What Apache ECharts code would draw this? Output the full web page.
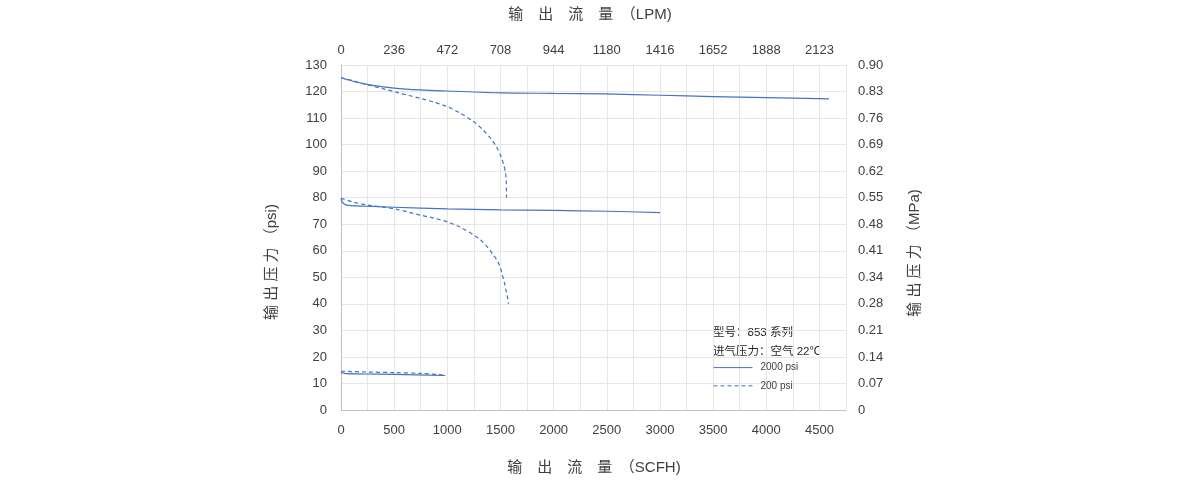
<!DOCTYPE html>
<html>
<head>
<meta charset="utf-8">
<script src="https://cdn.jsdelivr.net/npm/echarts@6/dist/echarts.min.js"></script>
<style>
html,body{margin:0;padding:0;background:#fff;}
#chart{width:1191px;height:482px;}
</style>
</head>
<body>
<div id="chart"></div>
<script>
// ---- data (flow in SCFH, outlet pressure in psi) ----
var bottomTickLabels = ['0','500','1000','1500','2000','2500','3000','3500','4000','4500'];
var topTickLabels = ['0','236','472','708','944','1180','1416','1652','1888','2123'];
var leftTickLabels = ['0','10','20','30','40','50','60','70','80','90','100','110','120','130'];
var rightTickLabels = ['0','0.07','0.14','0.21','0.28','0.34','0.41','0.48','0.55','0.62','0.69','0.76','0.83','0.90'];

// 2000 psi inlet (solid)
var flowHighSet2000 = [0, 50, 150, 300, 500, 750, 1000, 1500, 2000, 2500, 3000, 3500, 4000, 4590];
var psiHighSet2000  = [125.2, 124.6, 123.5, 122.3, 121.3, 120.6, 120.2, 119.5, 119.3, 119.1, 118.6, 118.1, 117.7, 117.2];
var flowMidSet2000  = [0, 15, 40, 100, 300, 500, 1000, 1500, 2000, 2500, 3000];
var psiMidSet2000   = [79.6, 78.2, 77.4, 77.0, 76.7, 76.4, 75.8, 75.4, 75.2, 74.9, 74.4];
var flowLowSet2000  = [0, 30, 200, 500, 980];
var psiLowSet2000   = [14.2, 13.8, 13.6, 13.4, 13.0];

// 200 psi inlet (dashed)
var flowHighSet200 = [0, 120, 250, 400, 525, 650, 750, 875, 1000, 1125, 1250, 1330, 1406, 1460, 1500, 1530, 1547, 1555, 1557];
var psiHighSet200  = [125.2, 124.0, 122.5, 121.0, 119.7, 118.4, 117.4, 116.0, 114.3, 111.8, 108.6, 105.8, 102.4, 99.3, 96.1, 92.5, 89.5, 85.5, 80.0];
var flowMidSet200  = [0, 120, 250, 400, 525, 650, 750, 875, 1000, 1125, 1250, 1320, 1375, 1430, 1470, 1500, 1520, 1540, 1555, 1568, 1575];
var psiMidSet200   = [79.8, 78.3, 77.2, 76.4, 75.6, 74.4, 73.4, 72.3, 70.9, 68.8, 65.9, 63.8, 61.5, 58.6, 56.3, 53.5, 50.5, 47.5, 44.5, 42.0, 40.0];
var flowLowSet200  = [0, 250, 500, 750, 980];
var psiLowSet200   = [14.6, 14.3, 14.1, 13.8, 13.1];

var legendNames = ['2000 psi', '200 psi'];
var legendHeader = ['型号：853 系列', '进气压力：空气 22℃'];

function zip(xs, ys){ return xs.map(function(x,i){ return [x, ys[i]]; }); }

var BLUE = '#4472C4';
var FONT = '"Liberation Sans", Arial, "Noto Sans CJK SC", sans-serif';
var TXT = '#404040';
var GRID = '#e6e6e6';

function mkSeries(name, xs, ys, dashed){
  return {
    name: name, type: 'line', xAxisIndex: 0, yAxisIndex: 0,
    data: zip(xs, ys), symbol: 'none', showSymbol: false, smooth: 0.3,
    lineStyle: {color: BLUE, width: 1.2, type: dashed ? [4,3] : 'solid'},
    itemStyle: {color: BLUE},
    animation: false
  };
}

var chart = echarts.init(document.getElementById('chart'), null, {renderer:'canvas'});
chart.setOption({
  backgroundColor: '#fff',
  animation: false,
  textStyle: {fontFamily: FONT},
  grid: {left: 341, right: 345, top: 65, bottom: 72, containLabel: false},
  xAxis: [{
    type: 'value', position: 'bottom', min: 0, max: 4750, interval: 250,
    axisLine: {show: true, lineStyle: {color: '#bfbfbf', width: 1}},
    axisTick: {show: false},
    splitLine: {show: true, lineStyle: {color: GRID, width: 1}},
    axisLabel: {color: TXT, fontSize: 13, fontFamily: FONT, margin: 14,
      formatter: function(v){ return (v % 500 === 0 && v/500 < bottomTickLabels.length) ? bottomTickLabels[v/500] : ''; }}
  },{
    type: 'value', position: 'top', min: 0, max: 4750, interval: 250,
    axisLine: {show: false}, axisTick: {show: false}, splitLine: {show: false},
    axisLabel: {color: TXT, fontSize: 13, fontFamily: FONT, margin: 8,
      formatter: function(v){ return (v % 500 === 0 && v/500 < topTickLabels.length) ? topTickLabels[v/500] : ''; }}
  }],
  yAxis: [{
    type: 'value', position: 'left', min: 0, max: 130, interval: 10,
    axisLine: {show: true, lineStyle: {color: '#bfbfbf', width: 1}},
    axisTick: {show: false},
    splitLine: {show: true, lineStyle: {color: GRID, width: 1}},
    axisLabel: {color: TXT, fontSize: 13, fontFamily: FONT, margin: 14,
      formatter: function(v){ return leftTickLabels[Math.round(v/10)]; }}
  },{
    type: 'value', position: 'right', min: 0, max: 130, interval: 10,
    axisLine: {show: false}, axisTick: {show: false}, splitLine: {show: false},
    axisLabel: {color: TXT, fontSize: 13, fontFamily: FONT, margin: 12,
      formatter: function(v){ return rightTickLabels[Math.round(v/10)]; }}
  }],
  legend: {
    data: legendNames, orient: 'vertical', left: 708, top: 357,
    itemWidth: 39, itemHeight: 14, itemGap: 7,
    itemStyle: {opacity: 0},
    lineStyle: {width: 1},
    textStyle: {color: TXT, fontSize: 10, fontFamily: FONT, padding: [0,0,0,3]}
  },
  graphic: [
    {type:'text', x: 590, y: 15, style:{text:'输　出　流　量　（LPM)', fill: TXT, font: '15px ' + FONT, textAlign:'center', textVerticalAlign:'middle'}},
    {type:'text', x: 594, y: 468, style:{text:'输　出　流　量　（SCFH)', fill: TXT, font: '15px ' + FONT, textAlign:'center', textVerticalAlign:'middle'}},
    {type:'text', x: 272, y: 262, rotation: Math.PI/2, style:{text:'输 出 压 力 （psi)', fill: TXT, font: '15px ' + FONT, textAlign:'center', textVerticalAlign:'middle'}},
    {type:'text', x: 915, y: 253, rotation: Math.PI/2, style:{text:'输 出 压 力 （MPa)', fill: TXT, font: '15px ' + FONT, textAlign:'center', textVerticalAlign:'middle'}},
    {type:'text', x: 713, y: 333, style:{text: legendHeader[0], fill: '#262626', font: '11.5px ' + FONT, textVerticalAlign:'middle'}},
    {type:'text', x: 713, y: 352, style:{text: legendHeader[1], fill: '#262626', font: '11.5px ' + FONT, textVerticalAlign:'middle'}}
  ],
  series: [
    mkSeries(legendNames[0], flowHighSet2000, psiHighSet2000, false),
    mkSeries(legendNames[1], flowHighSet200, psiHighSet200, true),
    mkSeries(legendNames[0], flowMidSet2000, psiMidSet2000, false),
    mkSeries(legendNames[1], flowMidSet200, psiMidSet200, true),
    mkSeries(legendNames[0], flowLowSet2000, psiLowSet2000, false),
    mkSeries(legendNames[1], flowLowSet200, psiLowSet200, true)
  ]
});
</script>
</body>
</html>
